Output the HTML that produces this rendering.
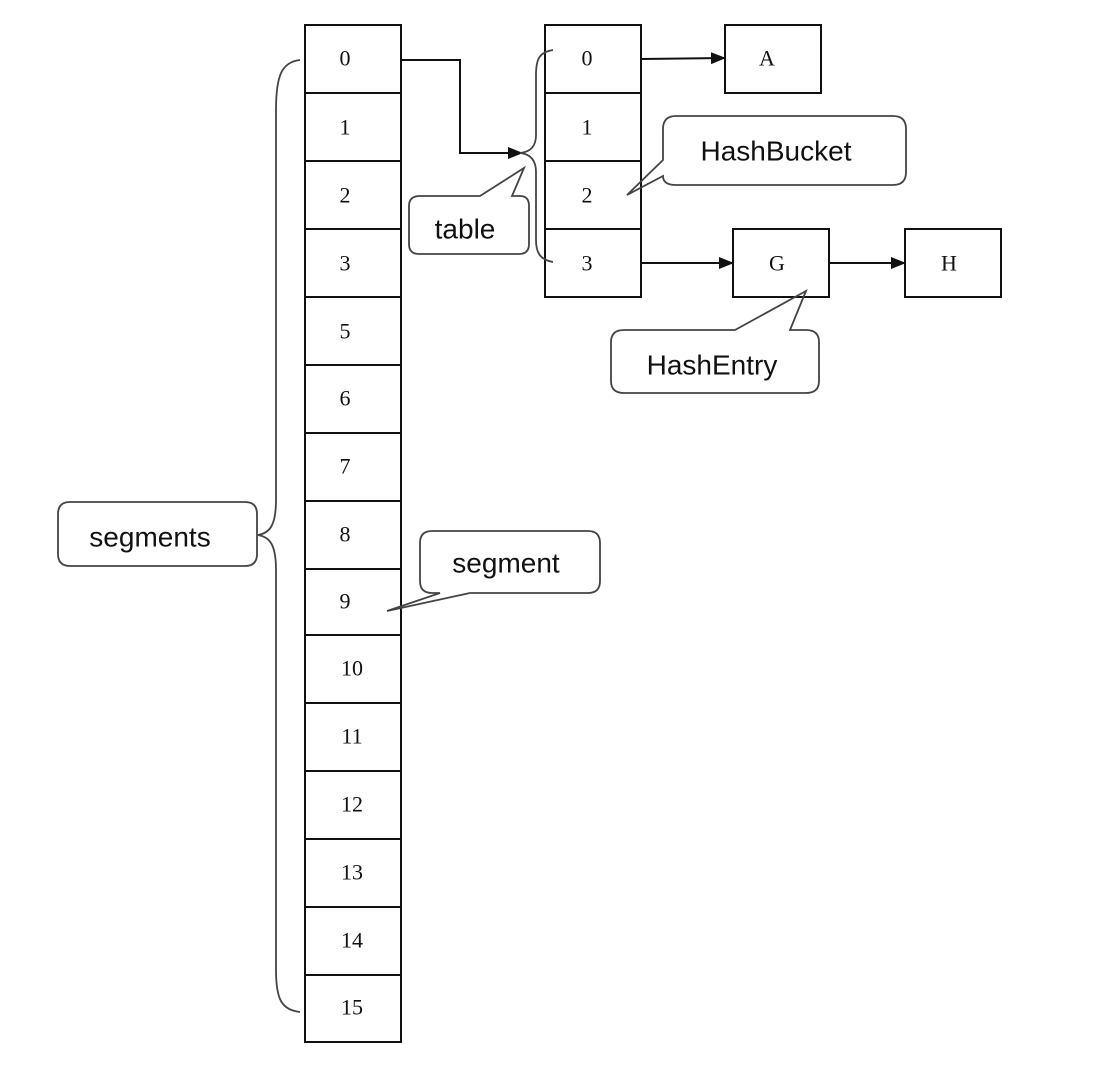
<!DOCTYPE html>
<html><head><meta charset="utf-8"><style>
html,body{margin:0;padding:0;background:#fff;}
svg{display:block}
.c{font-family:"Liberation Serif",serif;font-size:22px;text-anchor:middle;dominant-baseline:central;fill:#111}
.s{font-family:"Liberation Sans",sans-serif;font-size:28px;text-anchor:middle;dominant-baseline:central;fill:#111}
</style></head><body>
<svg width="1108" height="1082" viewBox="0 0 1108 1082" xmlns="http://www.w3.org/2000/svg">
<defs><marker id="a" markerWidth="15" markerHeight="12" refX="14" refY="6" orient="auto" markerUnits="userSpaceOnUse"><path d="M0,0 L15,6 L0,12 z" fill="#111"/></marker></defs>
<g fill="none" stroke="#111" stroke-width="2">
<rect x="305" y="25" width="96" height="1017"/>
<path d="M305 93H401M305 161H401M305 229H401M305 297H401M305 365H401M305 433H401M305 501H401M305 569H401M305 635H401M305 703H401M305 771H401M305 839H401M305 907H401M305 975H401"/>
<rect x="545" y="25" width="96" height="272"/>
<path d="M545 93H641M545 161H641M545 229H641"/>
<rect x="725" y="25" width="96" height="68"/>
<rect x="733" y="229" width="96" height="68"/>
<rect x="905" y="229" width="96" height="68"/>
<path d="M401 60H460V153H522" marker-end="url(#a)"/>
<path d="M641 59L725 58" marker-end="url(#a)"/>
<path d="M641 263H733" marker-end="url(#a)"/>
<path d="M829 263H905" marker-end="url(#a)"/>
</g>
<g fill="none" stroke="#444" stroke-width="1.8">
<path d="M300 60C282 62 276 75 276 110V500C276 525 270 533 258 535C270 537 276 545 276 570V970C276 1000 282 1010 300 1012"/>
<path d="M553 50C540 52 536 58 536 75V135C536 147 530 152 520 153C530 154 536 160 536 172V240C536 255 542 260 553 262"/>
<path d="M420 196H480L524 168L512 196H520Q529 196 529 206V244Q529 254 519 254H419Q409 254 409 244V206Q409 196 420 196Z"/>
<path d="M663 160L627 195L663 176V176Q663 185 676 185H893Q906 185 906 172V129Q906 116 893 116H676Q663 116 663 129Z"/>
<path d="M735 330L806 291L790 330H806Q819 330 819 342V381Q819 393 806 393H624Q611 393 611 381V342Q611 330 624 330Z"/>
<path d="M470 593L387 611L440 593H432Q420 593 420 581V543Q420 531 432 531H588Q600 531 600 543V581Q600 593 588 593Z"/>
<path d="M70 502H245Q257 502 257 514V554Q257 566 245 566H70Q58 566 58 554V514Q58 502 70 502Z"/>
</g>
<g class="c">
<text x="345" y="58">0</text><text x="345" y="127">1</text><text x="345" y="195">2</text><text x="345" y="263">3</text>
<text x="345" y="331">5</text><text x="345" y="398">6</text><text x="345" y="466">7</text><text x="345" y="534">8</text>
<text x="345" y="601">9</text><text x="352" y="668">10</text><text x="352" y="736">11</text><text x="352" y="804">12</text>
<text x="352" y="872">13</text><text x="352" y="940">14</text><text x="352" y="1007">15</text>
<text x="587" y="58">0</text><text x="587" y="127">1</text><text x="587" y="195">2</text><text x="587" y="263">3</text>
<text x="767" y="58">A</text><text x="777" y="263">G</text><text x="949" y="263">H</text>
</g>
<g class="s">
<text x="465" y="229">table</text>
<text x="776" y="151">HashBucket</text>
<text x="712" y="365">HashEntry</text>
<text x="506" y="563">segment</text>
<text x="150" y="537">segments</text>
</g>
</svg>
</body></html>
